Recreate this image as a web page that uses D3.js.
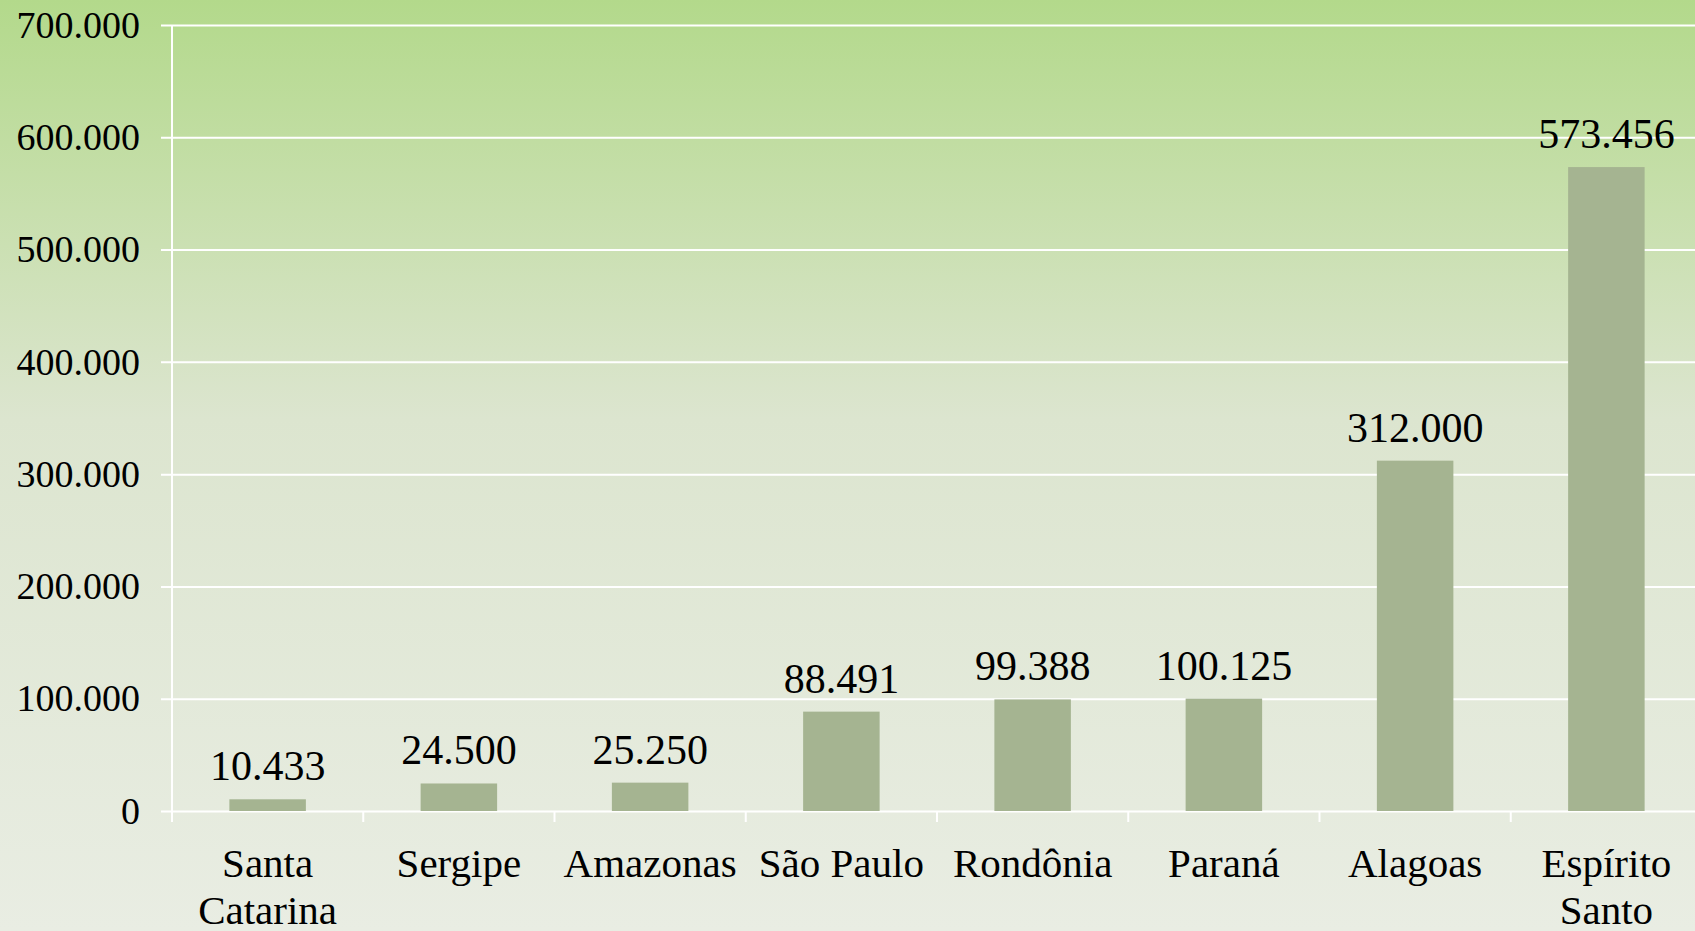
<!DOCTYPE html>
<html lang="pt">
<head>
<meta charset="utf-8">
<script src="https://d3js.org/d3.v7.min.js"></script>
<style>
  html, body { margin: 0; padding: 0; overflow: hidden; }
  svg text { font-family: "Liberation Serif", "Times New Roman", serif; fill: #000; }
</style>
</head>
<body>
<script>
// data
const categories = ["Santa Catarina", "Sergipe", "Amazonas", "São Paulo", "Rondônia", "Paraná", "Alagoas", "Espírito Santo"];
const values = [10433, 24500, 25250, 88491, 99388, 100125, 312000, 573456];
const yTicks = [0, 100000, 200000, 300000, 400000, 500000, 600000, 700000];

const W = 1695, H = 931;
const plotLeft = 172, plotRight = 1702, plotTop = 25, plotBottom = 811;

const svg = d3.select("body").append("svg")
    .attr("width", W)
    .attr("height", H);

// background gradient
const grad = svg.append("defs").append("linearGradient")
    .attr("id", "bg")
    .attr("x1", 0).attr("y1", 0).attr("x2", 0).attr("y2", 1);
grad.append("stop").attr("offset", "0%").attr("stop-color", "#b3d98b");
grad.append("stop").attr("offset", "45%").attr("stop-color", "#dce5cf");
grad.append("stop").attr("offset", "100%").attr("stop-color", "#e9ede3");

svg.append("rect")
    .attr("width", W)
    .attr("height", H)
    .attr("fill", "url(#bg)");

const locale = d3.formatLocale({ decimal: ",", thousands: ".", grouping: [3], currency: ["R$", ""] });
const fmt = locale.format(",d");

const x = d3.scaleBand()
    .domain(categories)
    .range([plotLeft, plotRight])
    .padding(0);

const y = d3.scaleLinear()
    .domain([0, 700000])
    .range([plotBottom, plotTop]);

// y axis with gridlines
const yAxis = svg.append("g")
    .attr("transform", "translate(" + plotLeft + ",0)")
    .call(d3.axisLeft(y)
        .tickValues(yTicks)
        .tickFormat(fmt)
        .tickSize(-(W - plotLeft))
        .tickPadding(32));
yAxis.select(".domain").remove();
yAxis.selectAll(".tick line")
    .attr("x1", -11)
    .attr("stroke", "#fff")
    .attr("stroke-width", 2);
yAxis.selectAll(".tick text")
    .style("font-size", "38px")
    .attr("font-family", null);

// vertical axis line
svg.append("line")
    .attr("x1", plotLeft).attr("x2", plotLeft)
    .attr("y1", plotTop).attr("y2", plotBottom + 11)
    .attr("stroke", "#fff")
    .attr("stroke-width", 2);

// category ticks at band edges
const edges = categories.map(d => x(d)).concat([x.range()[1]]);
svg.selectAll(".xtick")
    .data(edges.slice(1))
    .enter()
    .append("line")
    .attr("class", "xtick")
    .attr("x1", d => d).attr("x2", d => d)
    .attr("y1", plotBottom).attr("y2", plotBottom + 11)
    .attr("stroke", "#fff")
    .attr("stroke-width", 2);

// bars
const barW = x.bandwidth() * 0.4;
svg.selectAll(".bar")
    .data(values)
    .enter()
    .append("rect")
    .attr("class", "bar")
    .attr("x", (d, i) => x(categories[i]) + (x.bandwidth() - barW) / 2)
    .attr("y", d => y(d))
    .attr("width", barW)
    .attr("height", d => y(0) - y(d))
    .attr("fill", "#a5b491");

// value labels
svg.selectAll(".val")
    .data(values)
    .enter()
    .append("text")
    .attr("class", "val")
    .attr("x", (d, i) => x(categories[i]) + x.bandwidth() / 2)
    .attr("y", d => y(d) - 19)
    .attr("text-anchor", "middle")
    .style("font-size", "42px")
    .text(d => fmt(d));

// category labels
const cat = svg.selectAll(".cat")
    .data(categories)
    .enter()
    .append("text")
    .attr("class", "cat")
    .attr("x", d => x(d) + x.bandwidth() / 2)
    .attr("y", 877)
    .attr("text-anchor", "middle")
    .style("font-size", "41px");

cat.each(function(d) {
    const lines = d.length > 10 ? [d.slice(0, d.indexOf(" ")), d.slice(d.indexOf(" ") + 1)] : [d];
    const t = d3.select(this);
    lines.forEach((l, i) => {
        t.append("tspan")
            .attr("x", x(d) + x.bandwidth() / 2)
            .attr("dy", i === 0 ? 0 : 47)
            .text(l);
    });
});
</script>
</body>
</html>
